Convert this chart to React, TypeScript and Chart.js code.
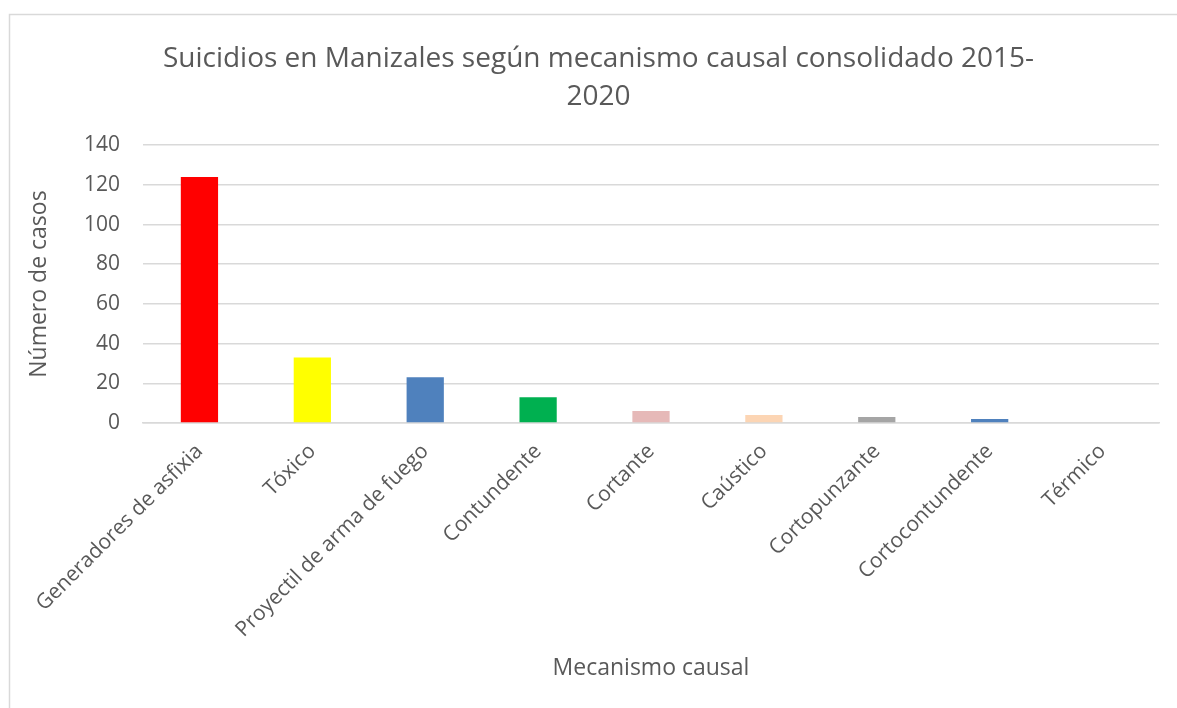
import React, { useEffect, useRef } from "react";
import { Chart, registerables } from "chart.js";

Chart.register(...registerables);

const categories = [
  "Generadores de asfixia",
  "Tóxico",
  "Proyectil de arma de fuego",
  "Contundente",
  "Cortante",
  "Caústico",
  "Cortopunzante",
  "Cortocontundente",
  "Térmico",
];
const casos = [124, 33, 23, 13, 6, 4, 3, 2, 0];
const barColors = [
  "#FF0000",
  "#FFFF00",
  "#4F81BD",
  "#00B050",
  "#E6B9B8",
  "#FCD5B4",
  "#A5A5A5",
  "#4F81BD",
  "#F79646",
];
const titleLines = ["Suicidios en Manizales según mecanismo causal consolidado 2015-", "2020"];
const yTitle = "Número de casos";
const xTitle = "Mecanismo causal";

const TXT = "#595959";
const FONT = "'Open Sans', 'Liberation Sans', sans-serif";

const borderPlugin = {
  id: "outerBorder",
  beforeDraw(chart: any) {
    const { ctx, width, height } = chart;
    ctx.save();
    ctx.strokeStyle = "#D9D9D9";
    ctx.lineWidth = 1.5;
    ctx.beginPath();
    ctx.moveTo(9.5, height + 2);
    ctx.lineTo(9.5, 14.5);
    ctx.lineTo(width + 2, 14.5);
    ctx.stroke();
    ctx.restore();
  },
};

export default function App() {
  const ref = useRef<HTMLCanvasElement>(null);
  useEffect(() => {
    if (!ref.current) return;
    const chart = new Chart(ref.current, {
      type: "bar",
      data: {
        labels: categories,
        datasets: [
          {
            data: casos,
            backgroundColor: barColors,
            borderWidth: 0,
            barPercentage: 0.33,
            categoryPercentage: 1,
          },
        ],
      },
      plugins: [borderPlugin],
      options: {
        animation: false,
        responsive: true,
        maintainAspectRatio: false,
        layout: { padding: { left: 38, right: 18, top: 0, bottom: 0 } },
        plugins: {
          legend: { display: false },
          tooltip: { enabled: false },
          title: {
            display: true,
            text: titleLines,
            color: TXT,
            font: { family: FONT, size: 28, weight: "normal", lineHeight: 1.36 },
            padding: { top: 40, bottom: 29 },
          },
        },
        scales: {
          x: {
            grid: { display: false },
            border: { color: "#D9D9D9", width: 1.5 },
            ticks: {
              color: TXT,
              font: { family: FONT, size: 21 },
              minRotation: 45,
              maxRotation: 45,
              padding: 8,
              autoSkip: false,
            },
            title: {
              display: true,
              text: xTitle,
              color: TXT,
              font: { family: FONT, size: 23 },
              padding: { top: 0, bottom: 26 },
            },
            afterFit(scale: any) {
              scale.height = 285;
            },
          },
          y: {
            min: 0,
            max: 140,
            border: { display: false },
            grid: { color: "#D9D9D9", lineWidth: 1.5, drawTicks: false },
            ticks: {
              stepSize: 20,
              color: TXT,
              font: { family: FONT, size: 21 },
              padding: 23,
            },
            title: {
              display: true,
              text: yTitle,
              color: TXT,
              font: { family: FONT, size: 23 },
              padding: { top: -12, bottom: 0 },
            },
            afterFit(scale: any) {
              scale.width = 105;
            },
          },
        },
      },
    });
    return () => chart.destroy();
  }, []);
  return (
    <div style={{ position: "fixed", left: 0, top: 0, width: 1177, height: 708 }}>
      <canvas ref={ref} />
    </div>
  );
}
